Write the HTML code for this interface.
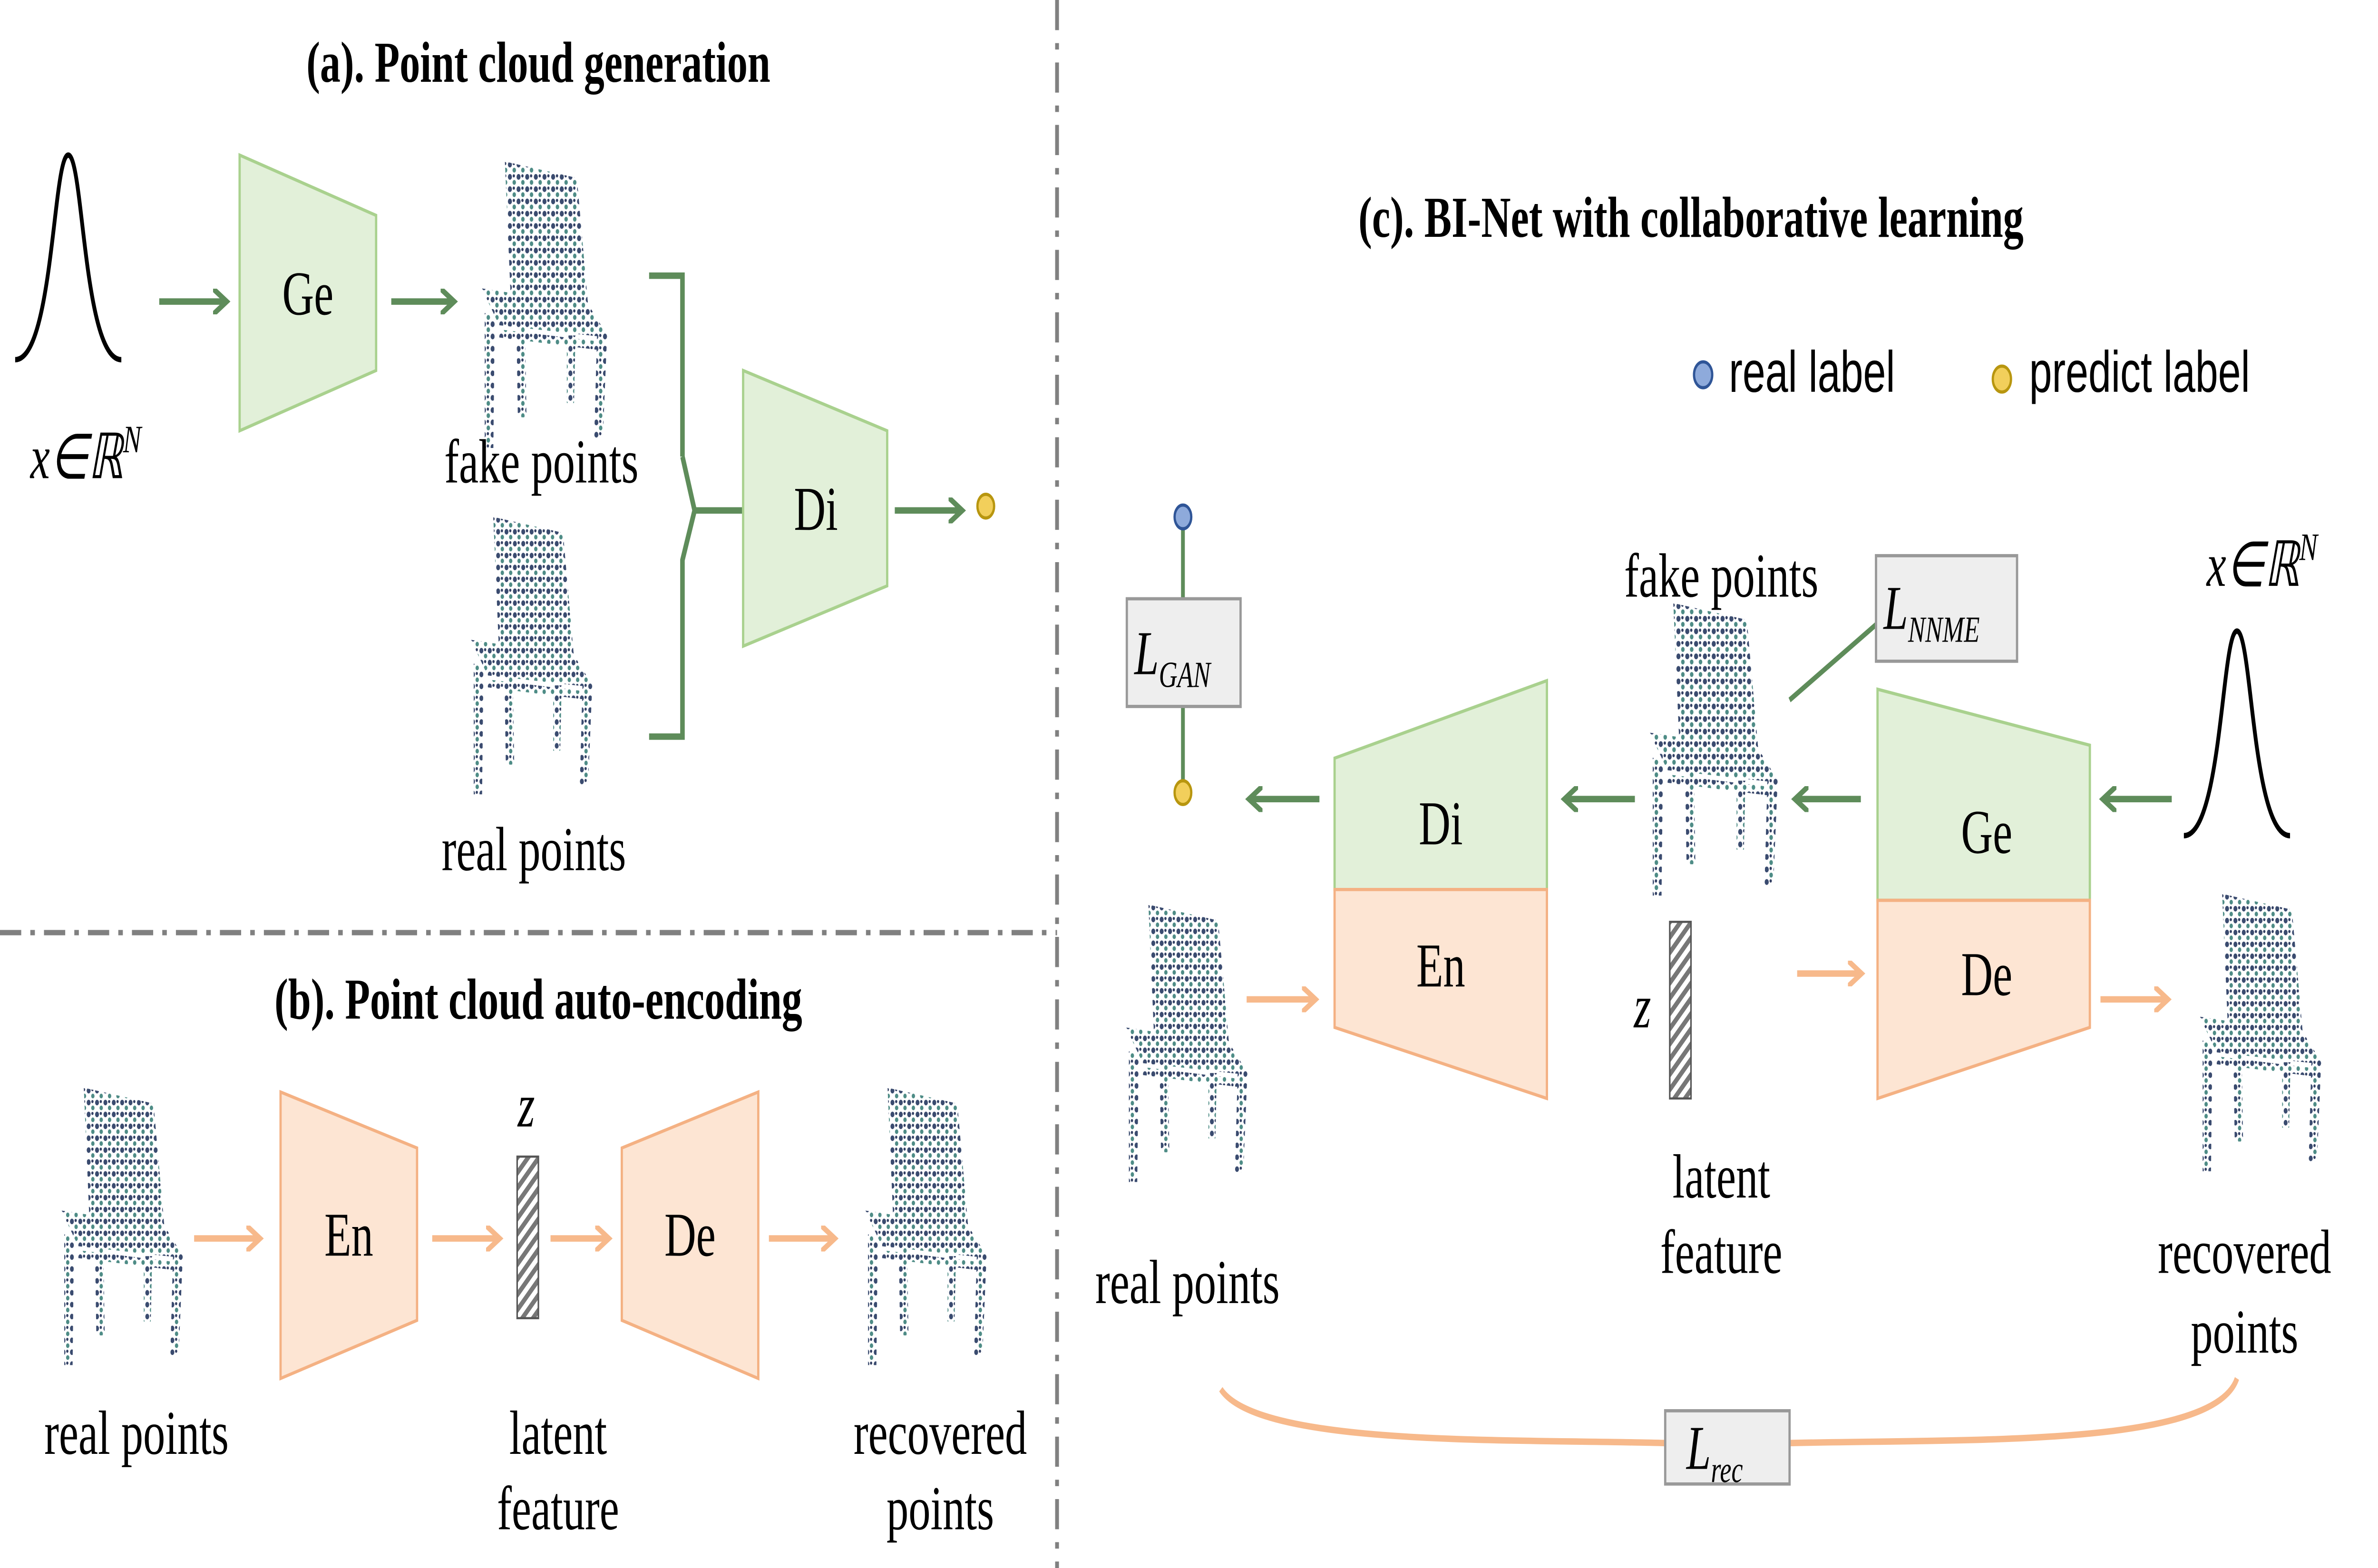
<!DOCTYPE html>
<html><head><meta charset="utf-8"><style>
html,body{margin:0;padding:0;background:#fff;width:100%;height:100%;overflow:hidden}
svg{display:block;width:100vw;height:100vh}
text{font-family:"Liberation Serif",serif;fill:#000}
.t{font-weight:bold;font-size:27px}
.l{font-size:29px}
.s{font-family:"Liberation Sans",sans-serif;font-size:27px}
</style></head><body>
<svg viewBox="0 0 1568 728" preserveAspectRatio="none" xmlns="http://www.w3.org/2000/svg">
<defs>
<marker id="ag" markerWidth="4" markerHeight="4" refX="2.5" refY="2" orient="auto" markerUnits="strokeWidth"><path d="M0,0 L3,2 L0,4" fill="none" stroke="#5e8c5a" stroke-width="0.9"/></marker>
<marker id="ao" markerWidth="4" markerHeight="4" refX="2.5" refY="2" orient="auto" markerUnits="strokeWidth"><path d="M0,0 L3,2 L0,4" fill="none" stroke="#f7b98b" stroke-width="0.9"/></marker>
<pattern id="dots" width="6" height="6" patternUnits="userSpaceOnUse">
<circle cx="1.5" cy="1.5" r="1.4" fill="#24375f"/><circle cx="4.5" cy="4.2" r="1.2" fill="#3a7f78"/><circle cx="4.2" cy="1" r="0.8" fill="#1b2a52"/>
</pattern>
<pattern id="hatch" width="5" height="5" patternUnits="userSpaceOnUse" patternTransform="rotate(45)">
<rect width="5" height="5" fill="#fff"/><rect width="2.5" height="5" fill="#777"/></pattern>
<g id="chair">
<path d="M22,0 L72,8 L80,72 L26,66 Z M6,62 L80,70 L94,86 L18,80 Z M8,74 L15,76 L14,140 L8,140 Z M86,84 L93,84 L90,135 L84,135 Z M30,80 L36,80 L37,125 L31,125 Z M65,85 L71,85 L70,118 L65,118 Z M18,82 L88,88 L86,92 L18,86 Z" fill="url(#dots)" opacity="0.9"/>
</g>
<g id="gauss"><path d="M0,95 C25,95 25,0 35,0 C45,0 45,95 70,95" fill="none" stroke="#000" stroke-width="2.5"/></g>
</defs>
<line x1="697" y1="0" x2="697" y2="728" stroke="#808080" stroke-width="2.5" stroke-dasharray="14,6,3,6"/>
<line x1="0" y1="433" x2="697" y2="433" stroke="#808080" stroke-width="2.5" stroke-dasharray="14,6,3,6"/>

<text class="t" x="355" y="38" text-anchor="middle">(a). Point cloud generation</text>
<use href="#gauss" x="10" y="72"/>
<text class="l" x="20" y="222" font-style="italic">x∈ℝ<tspan font-size="18" dy="-12">N</tspan></text>
<line x1="105" y1="140" x2="148" y2="140" stroke="#5e8c5a" stroke-width="3" marker-end="url(#ag)"/>
<path d="M158,72 L248,100 L248,172 L158,200 Z" fill="#e2f0d9" stroke="#a9d18e" stroke-width="1.5"/>
<text class="l" x="203" y="146" text-anchor="middle">Ge</text>
<line x1="258" y1="140" x2="298" y2="140" stroke="#5e8c5a" stroke-width="3" marker-end="url(#ag)"/>
<use href="#chair" transform="translate(312,75) scale(0.95)"/>
<text class="l" x="357" y="224" text-anchor="middle">fake points</text>
<use href="#chair" transform="translate(305,240) scale(0.92)"/>
<text class="l" x="352" y="404" text-anchor="middle">real points</text>
<path d="M428,128 L450,128 L450,212 M428,342 L450,342 L450,260 L458,237 L490,237 M450,212 L458,237" fill="none" stroke="#5e8c5a" stroke-width="3"/>
<path d="M490,172 L585,200 L585,272 L490,300 Z" fill="#e2f0d9" stroke="#a9d18e" stroke-width="1.5"/>
<text class="l" x="538" y="246" text-anchor="middle">Di</text>
<line x1="590" y1="237" x2="633" y2="237" stroke="#5e8c5a" stroke-width="3" marker-end="url(#ag)"/>
<circle cx="650" cy="235" r="5.5" fill="#f2cf5b" stroke="#b8960f" stroke-width="1.5"/>

<text class="t" x="355" y="473" text-anchor="middle">(b). Point cloud auto-encoding</text>
<use href="#chair" transform="translate(35,505) scale(0.92)"/>
<text class="l" x="90" y="675" text-anchor="middle">real points</text>
<line x1="128" y1="575" x2="170" y2="575" stroke="#f7b98b" stroke-width="3" marker-end="url(#ao)"/>
<path d="M185,507 L275,533 L275,613 L185,640 Z" fill="#fde5d3" stroke="#f4b183" stroke-width="1.5"/>
<text class="l" x="230" y="583" text-anchor="middle">En</text>
<line x1="285" y1="575" x2="328" y2="575" stroke="#f7b98b" stroke-width="3" marker-end="url(#ao)"/>
<rect x="341" y="537" width="14" height="75" fill="url(#hatch)" stroke="#555" stroke-width="1"/>
<text class="l" x="347" y="523" text-anchor="middle" font-style="italic">z</text>
<text class="l" x="368" y="675" text-anchor="middle">latent</text>
<text class="l" x="368" y="710" text-anchor="middle">feature</text>
<line x1="363" y1="575" x2="400" y2="575" stroke="#f7b98b" stroke-width="3" marker-end="url(#ao)"/>
<path d="M410,533 L500,507 L500,640 L410,613 Z" fill="#fde5d3" stroke="#f4b183" stroke-width="1.5"/>
<text class="l" x="455" y="583" text-anchor="middle">De</text>
<line x1="507" y1="575" x2="549" y2="575" stroke="#f7b98b" stroke-width="3" marker-end="url(#ao)"/>
<use href="#chair" transform="translate(565,505) scale(0.92)"/>
<text class="l" x="620" y="675" text-anchor="middle">recovered</text>
<text class="l" x="620" y="710" text-anchor="middle">points</text>

<text class="t" x="1115" y="110" text-anchor="middle">(c). BI-Net with collaborative learning</text>
<circle cx="1123" cy="174" r="6" fill="#8eaadb" stroke="#2f5597" stroke-width="1.5"/>
<text class="s" x="1140" y="182">real label</text>
<circle cx="1320" cy="176" r="6" fill="#f2cf5b" stroke="#b8960f" stroke-width="1.5"/>
<text class="s" x="1338" y="182">predict label</text>

<line x1="780" y1="246" x2="780" y2="362" stroke="#5e8c5a" stroke-width="2.5"/>
<circle cx="780" cy="240" r="5.5" fill="#8eaadb" stroke="#2f5597" stroke-width="1.5"/>
<circle cx="780" cy="368" r="5.5" fill="#f2cf5b" stroke="#b8960f" stroke-width="1.5"/>
<rect x="743" y="278" width="75" height="50" fill="#eee" stroke="#999" stroke-width="1.5"/>
<text class="l" x="748" y="313" font-style="italic">L<tspan font-size="17" dy="6">GAN</tspan></text>

<line x1="870" y1="371" x2="825" y2="371" stroke="#5e8c5a" stroke-width="3" marker-end="url(#ag)"/>
<path d="M880,352 L1020,316 L1020,413 L880,413 Z" fill="#e2f0d9" stroke="#a9d18e" stroke-width="1.5"/>
<path d="M880,413 L1020,413 L1020,510 L880,477 Z" fill="#fde5d3" stroke="#f4b183" stroke-width="1.5"/>
<text class="l" x="950" y="392" text-anchor="middle">Di</text>
<text class="l" x="950" y="458" text-anchor="middle">En</text>
<line x1="1078" y1="371" x2="1033" y2="371" stroke="#5e8c5a" stroke-width="3" marker-end="url(#ag)"/>
<use href="#chair" transform="translate(1082,280) scale(0.97)"/>
<text class="l" x="1135" y="277" text-anchor="middle">fake points</text>
<line x1="1180" y1="325" x2="1237" y2="290" stroke="#5e8c5a" stroke-width="2.5"/>
<rect x="1237" y="258" width="93" height="49" fill="#eee" stroke="#999" stroke-width="1.5"/>
<text class="l" x="1242" y="292" font-style="italic">L<tspan font-size="17" dy="6">NNME</tspan></text>
<line x1="1227" y1="371" x2="1185" y2="371" stroke="#5e8c5a" stroke-width="3" marker-end="url(#ag)"/>
<path d="M1238,320 L1378,346 L1378,418 L1238,418 Z" fill="#e2f0d9" stroke="#a9d18e" stroke-width="1.5"/>
<path d="M1238,418 L1378,418 L1378,477 L1238,510 Z" fill="#fde5d3" stroke="#f4b183" stroke-width="1.5"/>
<text class="l" x="1310" y="396" text-anchor="middle">Ge</text>
<text class="l" x="1310" y="462" text-anchor="middle">De</text>
<line x1="1432" y1="371" x2="1388" y2="371" stroke="#5e8c5a" stroke-width="3" marker-end="url(#ag)"/>
<use href="#gauss" x="1440" y="293"/>
<text class="l" x="1455" y="272" font-style="italic">x∈ℝ<tspan font-size="18" dy="-12">N</tspan></text>

<use href="#chair" transform="translate(737,420) scale(0.92)"/>
<text class="l" x="783" y="605" text-anchor="middle">real points</text>
<line x1="822" y1="464" x2="866" y2="464" stroke="#f7b98b" stroke-width="3" marker-end="url(#ao)"/>
<rect x="1101" y="428" width="14" height="82" fill="url(#hatch)" stroke="#555" stroke-width="1"/>
<text class="l" x="1083" y="477" text-anchor="middle" font-style="italic">z</text>
<text class="l" x="1135" y="556" text-anchor="middle">latent</text>
<text class="l" x="1135" y="591" text-anchor="middle">feature</text>
<line x1="1185" y1="452" x2="1226" y2="452" stroke="#f7b98b" stroke-width="3" marker-end="url(#ao)"/>
<line x1="1385" y1="464" x2="1428" y2="464" stroke="#f7b98b" stroke-width="3" marker-end="url(#ao)"/>
<use href="#chair" transform="translate(1445,415) scale(0.92)"/>
<text class="l" x="1480" y="591" text-anchor="middle">recovered</text>
<text class="l" x="1480" y="628" text-anchor="middle">points</text>

<path d="M805,645 C830,672 1000,668 1098,670 M1180,670 C1300,668 1460,672 1475,640" fill="none" stroke="#f7b98b" stroke-width="3"/>
<rect x="1098" y="655" width="82" height="34" fill="#eee" stroke="#999" stroke-width="1.5"/>
<text class="l" x="1112" y="682" font-style="italic">L<tspan font-size="17" dy="6">rec</tspan></text>
</svg>
</body></html>
